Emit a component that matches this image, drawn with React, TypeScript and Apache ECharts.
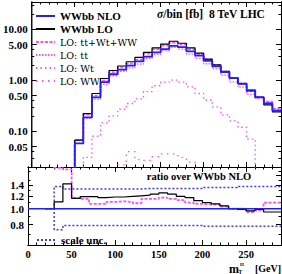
import React, { useEffect, useRef } from "react";
import * as echarts from "echarts";

const FONT = "Liberation Serif";
const X_MAX = 290;

// upper panel: bin starts (GeV), 10 GeV bins
const binsTop = [40, 50, 60, 70, 80, 90, 100, 110, 120, 130, 140, 150, 160, 170, 180, 190, 200, 210, 220, 230, 240, 250, 260, 270, 280];
const wwbbNLO = [0.01, 0.058, 0.187, 0.46, 0.92, 1.31, 1.61, 1.93, 2.33, 2.89, 3.5, 4.08, 4.72, 4.45, 3.68, 3.04, 2.39, 1.87, 1.44, 1.1, 0.86, 0.64, 0.465, 0.35, 0.255];
const wwbbLO = [0.014, 0.067, 0.222, 0.55, 1.08, 1.55, 1.9, 2.3, 2.8, 3.5, 4.3, 5.1, 5.8, 5.3, 4.3, 3.4, 2.6, 2.0, 1.5, 1.1, 0.85, 0.62, 0.46, 0.33, 0.24];
const loSum = [0.017, 0.068, 0.215, 0.5, 0.98, 1.44, 1.79, 2.12, 2.52, 3.32, 4.03, 4.77, 5.43, 5.03, 4.01, 3.25, 2.53, 1.98, 1.48, 1.1, 0.86, 0.61, 0.454, 0.38, 0.278];
const loTT = [0.015, 0.066, 0.18, 0.42, 0.83, 1.22, 1.5, 1.74, 2.06, 2.69, 3.22, 3.82, 4.4, 4.08, 3.25, 2.68, 2.1, 1.67, 1.26, 0.93, 0.73, 0.53, 0.44, 0.37, 0.27];
const loWt = [0.002, 0.005, 0.031, 0.08, 0.146, 0.2, 0.27, 0.35, 0.43, 0.6, 0.78, 0.92, 1.0, 0.92, 0.74, 0.55, 0.41, 0.3, 0.21, 0.16, 0.12, 0.07, 0.01, 0.008, 0.006];
const loWW = [0.005, 0.005, 0.005, 0.005, 0.005, 0.005, 0.022, 0.04, 0.028, 0.027, 0.032, 0.036, 0.036, 0.031, 0.025, 0.018, 0.012, 0.008, 0.006, 0.005, 0.005, 0.005, 0.005, 0.005, 0.005];

// lower panel: ratios over WWbb NLO
const binsRatio = [20, 30, 40, 50, 60, 70, 80, 90, 100, 110, 120, 130, 140, 150, 160, 170, 180, 190, 200, 210, 220, 230, 240, 250, 260, 270, 280];
const ratioLO = [1.0, 1.1, 1.42, 1.157, 1.185, 1.185, 1.17, 1.18, 1.18, 1.19, 1.2, 1.21, 1.23, 1.25, 1.23, 1.19, 1.17, 1.12, 1.09, 1.07, 1.04, 1.0, 0.99, 0.97, 0.99, 0.955, 0.955];
const ratioSum = [3.0, 1.78, 1.74, 1.17, 1.15, 1.07, 1.07, 1.1, 1.11, 1.1, 1.08, 1.15, 1.15, 1.17, 1.15, 1.13, 1.09, 1.07, 1.06, 1.06, 1.03, 1.0, 1.0, 0.955, 0.976, 1.09, 1.09];
const scaleUp = [1.0, 1.37, 1.32, 1.32, 1.32, 1.32, 1.32, 1.32, 1.32, 1.32, 1.32, 1.33, 1.33, 1.33, 1.33, 1.33, 1.33, 1.33, 1.35, 1.35, 1.35, 1.35, 1.37, 1.37, 1.37, 1.37, 1.37];
const scaleDown = [1.0, 0.745, 0.79, 0.79, 0.79, 0.79, 0.79, 0.79, 0.79, 0.79, 0.79, 0.79, 0.79, 0.79, 0.79, 0.79, 0.79, 0.79, 0.78, 0.78, 0.78, 0.78, 0.78, 0.78, 0.78, 0.78, 0.78];
const unityX = [0, 290];
const unityY = [1, 1];

// axes
const xLabels = [0, 50, 100, 150, 200, 250];
const xMinor = [10, 20, 30, 40, 60, 70, 80, 90, 110, 120, 130, 140, 160, 170, 180, 190, 210, 220, 230, 240, 260, 270, 280];
const yTopLabels = [0.05, 0.1, 0.5, 1, 5, 10];
const yTopMinor = [0.02, 0.03, 0.04, 0.2, 0.3, 0.4, 2, 3, 4, 20, 30];
const yTopRange = [0.02, 34];
const yBotLabels = [0.8, 1.0, 1.2, 1.4, 1.6];
const yBotMinor = [0.7, 0.9, 1.1, 1.3, 1.5, 1.7];
const yBotRange = [0.6, 1.8];

const lg = (v: number) => Math.log10(v);

function stepData(bins: number[], vals: number[]) {
  const pts: number[][] = bins.map((b, i) => [b, lg(vals[i])]);
  pts.push([X_MAX, lg(vals[vals.length - 1])]);
  return pts;
}

const labelFont = { fontFamily: FONT, fontSize: 10.5, fontWeight: "bold" as const, color: "#000" };

function xAx(grid: number, pos: "top" | "bottom", ticks: number[], len: number, labels: boolean) {
  return {
    type: "value",
    gridIndex: grid,
    position: pos,
    min: 0,
    max: X_MAX,
    axisLine: { show: true, onZero: false, lineStyle: { color: "#000", width: 1 } },
    axisTick: { show: true, inside: true, length: len, customValues: ticks, lineStyle: { color: "#000", width: 1 } },
    axisLabel: labels
      ? { show: true, customValues: xLabels, margin: 4, formatter: (v: number) => String(Math.round(v)), ...labelFont }
      : { show: false },
    splitLine: { show: false },
  };
}

function yAx(grid: number, pos: "left" | "right", range: number[], ticks: number[], len: number, labels: number[] | null, digits: number) {
  return {
    type: "value",
    gridIndex: grid,
    position: pos,
    min: lg(range[0]),
    max: lg(range[1]),
    axisLine: { show: true, onZero: false, lineStyle: { color: "#000", width: 1 } },
    axisTick: { show: true, inside: true, length: len, customValues: ticks.map(lg), lineStyle: { color: "#000", width: 1 } },
    axisLabel: labels
      ? { show: true, customValues: labels.map(lg), margin: 4, formatter: (v: number) => Math.pow(10, v).toFixed(digits), ...labelFont, fontSize: 11 }
      : { show: false },
    splitLine: { show: false },
  };
}

const PINK = "#ff4dff";

function line(name: string, data: number[][], xi: number, yi: number, color: string, width: number, type: any, z = 2) {
  return {
    type: "line",
    name,
    data,
    xAxisIndex: xi,
    yAxisIndex: yi,
    step: "end",
    symbol: "none",
    showSymbol: false,
    clip: true,
    z,
    lineStyle: { color, width, type },
    itemStyle: { color },
    emphasis: { disabled: true },
  };
}

const legendCommon = {
  orient: "vertical",
  padding: 0,
  itemWidth: 19,
  itemHeight: 1,
  selectedMode: false,
  itemStyle: { opacity: 0 },
};

export default function App() {
  const ref = useRef<HTMLDivElement>(null);
  useEffect(() => {
    if (!ref.current) return;
    const chart = echarts.init(ref.current, undefined, { renderer: "svg" });
    const option = {
      animation: false,
      backgroundColor: "#fff",
      title: {
        text: "{i|σ}/bin [fb]  8 TeV LHC",
        left: 157,
        top: 8,
        padding: 0,
        textStyle: {
          fontFamily: FONT,
          fontSize: 11.5,
          fontWeight: "bold",
          color: "#000",
          rich: { i: { fontFamily: FONT, fontSize: 11.5, fontWeight: "bold", fontStyle: "italic", color: "#000" } },
        },
      },
      grid: [
        { left: 28, top: 2, width: 253, height: 165 },
        { left: 28, top: 167, width: 253, height: 78 },
      ],
      xAxis: [
        xAx(0, "bottom", xLabels, 5, false),
        xAx(0, "bottom", xMinor, 2.5, false),
        xAx(0, "top", xLabels, 5, false),
        xAx(0, "top", xMinor, 2.5, false),
        xAx(1, "bottom", xLabels, 5, true),
        xAx(1, "bottom", xMinor, 2.5, false),
        xAx(1, "top", xLabels, 5, false),
        xAx(1, "top", xMinor, 2.5, false),
      ],
      yAxis: [
        yAx(0, "left", yTopRange, yTopLabels, 5, yTopLabels, 2),
        yAx(0, "left", yTopRange, yTopMinor, 2.5, null, 2),
        yAx(0, "right", yTopRange, yTopLabels, 5, null, 2),
        yAx(0, "right", yTopRange, yTopMinor, 2.5, null, 2),
        yAx(1, "left", yBotRange, yBotLabels, 5, yBotLabels, 1),
        yAx(1, "left", yBotRange, yBotMinor, 2.5, null, 1),
        yAx(1, "right", yBotRange, yBotLabels, 5, null, 1),
        yAx(1, "right", yBotRange, yBotMinor, 2.5, null, 1),
      ],
      legend: [
        {
          ...legendCommon,
          left: 35,
          top: 10,
          itemGap: 1,
          textStyle: { fontFamily: FONT, fontSize: 11, color: "#000", lineHeight: 12 },
          data: [
            { name: "WWbb NLO", textStyle: { fontWeight: "bold" } },
            { name: "WWbb LO", textStyle: { fontWeight: "bold" } },
            { name: "LO: tt+Wt+WW", textStyle: { fontFamily: "DejaVu Serif", fontSize: 9.5 } },
            { name: "LO: tt", textStyle: { fontFamily: "DejaVu Serif", fontSize: 9.5 } },
            { name: "LO: Wt", textStyle: { fontFamily: "DejaVu Serif", fontSize: 9.5 } },
            { name: "LO: WW", textStyle: { fontFamily: "DejaVu Serif", fontSize: 9.5 } },
          ],
        },
        {
          ...legendCommon,
          left: 36,
          top: 234,
          textStyle: { fontFamily: FONT, fontSize: 11, fontWeight: "bold", color: "#000", lineHeight: 12 },
          data: [{ name: "scale unc." }],
        },
      ],
      graphic: [
        {
          type: "text",
          x: 199,
          y: 176,
          style: { text: "ratio over WWbb NLO", fontFamily: FONT, fontSize: 10.5, fontWeight: "bold", fill: "#000", align: "center", verticalAlign: "middle" },
        },
        { type: "text", x: 229, y: 268.5, style: { text: "m", fontFamily: FONT, fontSize: 12, fontWeight: "bold", fill: "#000", align: "left", verticalAlign: "middle" } },
        { type: "text", x: 238.5, y: 271.5, style: { text: "T", fontFamily: FONT, fontSize: 5.5, fontWeight: "bold", fill: "#000", align: "left", verticalAlign: "middle" } },
        { type: "text", x: 240, y: 264, style: { text: "H", fontFamily: FONT, fontSize: 5, fontWeight: "bold", fill: "#000", align: "left", verticalAlign: "middle" } },
        { type: "text", x: 255, y: 268.5, style: { text: "[GeV]", fontFamily: FONT, fontSize: 10, fontWeight: "bold", fill: "#000", align: "left", verticalAlign: "middle" } },
      ],
      series: [
        line("LO: WW", stepData(binsTop, loWW), 0, 0, PINK, 1.3, [1.5, 4.5], 2),
        line("LO: Wt", stepData(binsTop, loWt), 0, 0, PINK, 1.3, [1.5, 3], 2),
        line("LO: tt", stepData(binsTop, loTT), 0, 0, PINK, 1.3, [1.5, 1.5], 2),
        line("LO: tt+Wt+WW", stepData(binsTop, loSum), 0, 0, PINK, 1.8, [3, 1.5], 3),
        line("WWbb LO", stepData(binsTop, wwbbLO), 0, 0, "#000", 1.2, "solid", 4),
        line("WWbb NLO", stepData(binsTop, wwbbNLO), 0, 0, "#1f1fff", 1.8, "solid", 5),
        line("scale unc.", stepData(binsRatio, scaleUp), 4, 4, "#3a3aff", 1.5, [2, 2], 3),
        line("scale unc.", stepData(binsRatio, scaleDown), 4, 4, "#3a3aff", 1.5, [2, 2], 3),
        line("ratio sum", stepData(binsRatio, ratioSum), 4, 4, PINK, 1.8, [3, 1.5], 3),
        line("ratio LO", stepData(binsRatio, ratioLO), 4, 4, "#000", 1.2, "solid", 4),
        {
          ...line("ratio NLO", unityX.map((x, i) => [x, lg(unityY[i])]), 4, 4, "#1f1fff", 1.5, "solid", 5),
          step: false,
        },
      ],
    };
    chart.setOption(option as any);
    return () => chart.dispose();
  }, []);
  return <div ref={ref} style={{ position: "fixed", left: 0, top: 0, width: 282, height: 274, background: "#fff" }} />;
}
